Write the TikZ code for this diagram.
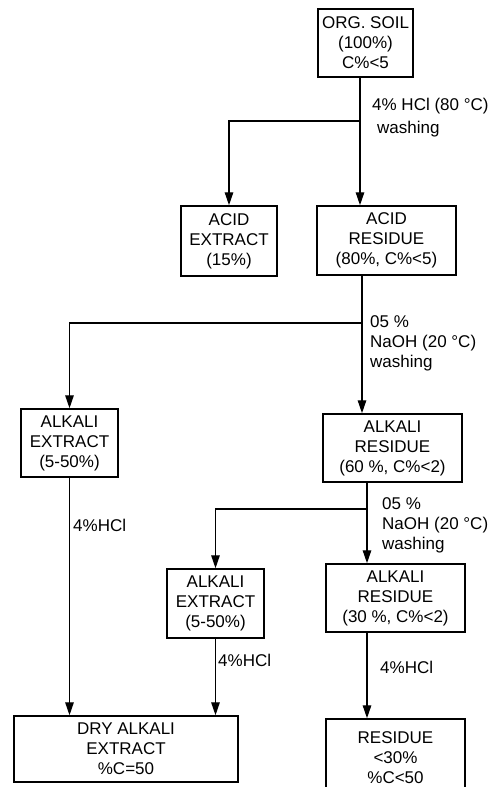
\documentclass[tikz,border=0pt]{standalone}
\usepackage{fontspec}
\setmainfont{Liberation Sans}
\usetikzlibrary{arrows.meta}

\tikzset{
	stage/.style={draw, line width=1.5pt, align=center, inner sep=0pt,
		font=\fontsize{17}{20}\selectfont},
	flow/.style={line width=1.4pt, -{Triangle[length=13pt,width=8.5pt]}},
	cond/.style={anchor=west, align=left, inner sep=0pt,
		font=\fontsize{17}{20}\selectfont}
}

\begin{document}
\begin{tikzpicture}[x=1pt,y=-1pt]
		\useasboundingbox (0,0) rectangle (498,787);

		\node[stage, minimum width=95pt, minimum height=68pt]
			(soil) at (365.5,43) {ORG. SOIL\\(100\%)\\C\%<5};
		\node[stage, minimum width=96pt, minimum height=70pt]
			(acidext) at (229,241) {ACID\\EXTRACT\\(15\%)};
		\node[stage, minimum width=139pt, minimum height=69pt]
			(acidres) at (386.5,240.5) {ACID\\RESIDUE\\(80\%, C\%<5)};
		\node[stage, minimum width=97pt, minimum height=68pt]
			(alkext1) at (69.5,443) {ALKALI\\EXTRACT\\(5-50\%)};
		\node[stage, minimum width=139pt, minimum height=68pt]
			(alkres1) at (392.5,448) {ALKALI\\RESIDUE\\(60 \%, C\%<2)};
		\node[stage, minimum width=97pt, minimum height=69pt]
			(alkext2) at (215.5,603.5) {ALKALI\\EXTRACT\\(5-50\%)};
		\node[stage, minimum width=139pt, minimum height=68pt]
			(alkres2) at (395.5,598) {ALKALI\\RESIDUE\\(30 \%, C\%<2)};
		\node[stage, minimum width=224pt, minimum height=66pt]
			(dry) at (126,749) {DRY ALKALI\\EXTRACT\\\%C=50};
		\node[stage, minimum width=139pt, minimum height=78pt]
			(resid) at (395.5,758) {RESIDUE\\<30\%\\\%C<50};

		% branch points
		\coordinate (b1) at (360,121);
		\coordinate (b2) at (362,323);
		\coordinate (b3) at (367,509);

		\draw[flow] (soil.south -| b1) -- (acidres.north -| b1);
		\draw[flow] (b1) -| (acidext.north);
		\draw[flow] (acidres.south -| b2) -- (alkres1.north -| b2);
		\draw[flow] (b2) -| (alkext1.north);
		\draw[flow] (alkres1.south -| b3) -- (alkres2.north -| b3);
		\draw[flow] (b3) -| (alkext2.north);
		\draw[flow] (alkext1.south) -- (alkext1.south |- dry.north);
		\draw[flow] (alkext2.south) -- (alkext2.south |- dry.north);
		\draw[flow] (alkres2.south -| b3) -- (resid.north -| b3);

		\node[cond] (hcl) at (372,106) {4\% HCl (80 °C)};
		\node[cond] (wash) at (377,129) {washing};
		\node[cond] (naoh1) at (370,343) {05 \%\\NaOH (20 °C)\\washing};
		\node[cond] (naoh2) at (382,525) {05 \%\\NaOH (20 °C)\\washing};
		\node[cond] (hcl1) at (73,525) {4\%HCl};
		\node[cond] (hcl2) at (218,660) {4\%HCl};
		\node[cond] (hcl3) at (380,667) {4\%HCl};

	\end{tikzpicture}
\end{document}
